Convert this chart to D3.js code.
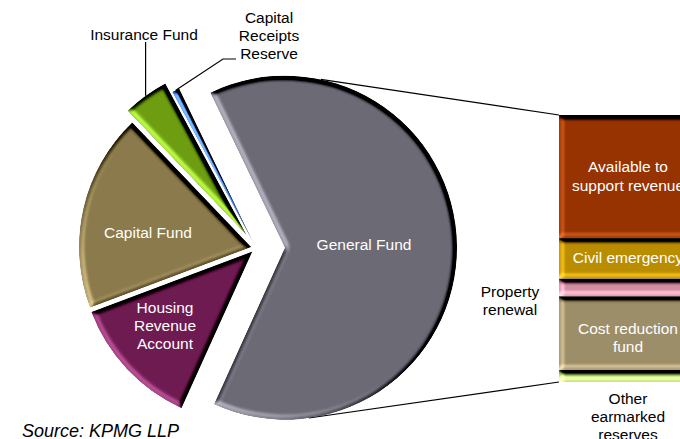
<!DOCTYPE html>
<html lang="en">
<head>
<meta charset="UTF-8">
<title>reserves</title>
<style>
  body { margin: 0; background: #fff; }
  svg text { font-family: "Liberation Sans", Arial, sans-serif; }
</style>
</head>
<body>
<script src="https://cdn.jsdelivr.net/npm/d3@7"></script>
<script>
// pie: reserves split (percent of total)
const slices = ["General Fund", "Housing Revenue Account", "Capital Fund", "Insurance Fund", "Capital Receipts Reserve"];
const sliceValues = [63.9, 12.5, 18.6, 4.3, 0.7];
const sliceColors = ["#6c6a75", "#6e1b52", "#8b7a4b", "#6e9e12", "#3f74c4"];
const sliceExplode = [29, 5, 5, 16, 5];

// bar: breakdown of General Fund (bottom to top)
const barCats = ["Other earmarked reserves", "Cost reduction fund", "Property renewal", "Civil emergency", "Available to support revenue"];
const barValues = [4.5, 27.6, 6.6, 15.2, 46.1];
const barColors = ["#b8d47c", "#9e8e6a", "#d08ea2", "#bb8d00", "#973300"];

const width = 680, height = 439;
const cx = 256, cy = 248, R = 172;
const deg = Math.PI / 180;
const start = -25.7 * deg;

const svg = d3.select('body').append('svg')
  .attr('width', width)
  .attr('height', height);

// bevel look
const defs = svg.append('defs');
const f = defs.append('filter').attr('id', 'bevel')
  .attr('color-interpolation-filters', 'sRGB')
  .attr('x', '-10%').attr('y', '-10%').attr('width', '120%').attr('height', '120%');
f.append('feGaussianBlur').attr('in', 'SourceAlpha').attr('stdDeviation', 2.5).attr('result', 'blur');
f.append('feDiffuseLighting').attr('in', 'blur').attr('surfaceScale', 5)
  .attr('diffuseConstant', 1).attr('lighting-color', '#fff').attr('result', 'light')
  .append('feDistantLight').attr('azimuth', 135).attr('elevation', 50);
f.append('feComposite').attr('in', 'SourceGraphic').attr('in2', 'light')
  .attr('operator', 'arithmetic').attr('k1', 1.305).attr('k2', 0).attr('k3', 0.7).attr('k4', -0.536)
  .attr('result', 'lit');
f.append('feComposite').attr('in', 'lit').attr('in2', 'SourceAlpha').attr('operator', 'in');

const pie = d3.pie().sort(null).value(d => d)
  .startAngle(start).endAngle(start + 2 * Math.PI);
const arcs = pie(sliceValues);
const arc = d3.arc().innerRadius(0).outerRadius(R);

// slice centre after explode
function centre(i) {
  const a = arcs[i], mid = (a.startAngle + a.endAngle) / 2, e = sliceExplode[i];
  return [cx + e * Math.sin(mid), cy - e * Math.cos(mid)];
}
function onArc(i, ang) {
  const c = centre(i);
  return [c[0] + R * Math.sin(ang), c[1] - R * Math.cos(ang)];
}

// bar scale
const y = d3.scaleLinear().domain([0, d3.sum(barValues)]).range([382, 115]);
const barX = 559, barW = 138;
let acc = 0;
const stack = barValues.map((v, i) => { const s = { i, y0: acc, y1: acc + v }; acc += v; return s; });

// connector lines (behind)
const gc = centre(0);
const lineTop = onArc(0, 12 * deg), lineBot = onArc(0, 172 * deg);
svg.append('line').attr('x1', lineTop[0]).attr('y1', lineTop[1])
  .attr('x2', barX).attr('y2', y(acc)).attr('stroke', '#000').attr('stroke-width', 1.2);
svg.append('line').attr('x1', lineBot[0]).attr('y1', lineBot[1])
  .attr('x2', barX).attr('y2', y(0)).attr('stroke', '#000').attr('stroke-width', 1.2);

// pie slices
svg.selectAll('path.slice')
  .data(arcs)
  .enter()
  .append('path')
  .attr('class', 'slice')
  .attr('transform', (d, i) => 'translate(' + centre(i) + ')')
  .attr('d', arc)
  .attr('fill', (d, i) => sliceColors[i])
  .attr('filter', 'url(#bevel)');

// bar segments
svg.selectAll('rect.seg')
  .data(stack)
  .enter()
  .append('rect')
  .attr('class', 'seg')
  .attr('x', barX)
  .attr('y', d => y(d.y1))
  .attr('width', barW)
  .attr('height', d => y(d.y0) - y(d.y1))
  .attr('fill', d => barColors[d.i])
  .attr('filter', 'url(#bevel)');

// leader lines
const insPt = onArc(3, (arcs[3].startAngle + arcs[3].endAngle) / 2);
svg.append('line').attr('x1', insPt[0]).attr('y1', 42).attr('x2', insPt[0]).attr('y2', insPt[1])
  .attr('stroke', '#000').attr('stroke-width', 1.2);
const crrPt = onArc(4, (arcs[4].startAngle + arcs[4].endAngle) / 2);
svg.append('polyline')
  .attr('points', [crrPt, [223, 59], [236, 59]].map(p => p.join(',')).join(' '))
  .attr('fill', 'none').attr('stroke', '#000').attr('stroke-width', 1.2);

// text helper
function label(lines, x, yc, color, size) {
  const lh = size * 1.17;
  const t = svg.append('text')
    .attr('x', x).attr('y', yc - (lines.length - 1) * lh / 2)
    .attr('text-anchor', 'middle')
    .attr('dominant-baseline', 'central')
    .attr('font-size', size)
    .attr('fill', color);
  lines.forEach((s, k) => t.append('tspan').attr('x', x).attr('dy', k ? lh : 0).text(s));
}

const fs = 15.5;
label(["General Fund"], gc[0] + 79, 244, '#fff', fs);
label(["Capital Fund"], 148, 232, '#fff', fs);
label(["Housing", "Revenue", "Account"], 165, 325, '#fff', fs);
label(["Insurance Fund"], 144, 34, '#000', fs);
label(["Capital", "Receipts", "Reserve"], 269, 35, '#000', fs);

const bx = barX + barW / 2;
const mid = i => y((stack[i].y0 + stack[i].y1) / 2);
label(["Available to", "support revenue"], bx, mid(4) - 1, '#fff', fs);
label(["Civil emergency"], bx, mid(3) - 1, '#fff', fs);
label(["Cost reduction", "fund"], bx, mid(1) + 4, '#fff', fs);
label(["Property", "renewal"], 510, 300, '#000', fs);
label(["Other", "earmarked", "reserves"], bx, 416, '#000', fs);

svg.append('text')
  .attr('x', 22).attr('y', 437)
  .attr('font-size', 18)
  .attr('font-style', 'italic')
  .attr('fill', '#000')
  .text('Source: KPMG LLP');
</script>
</body>
</html>
